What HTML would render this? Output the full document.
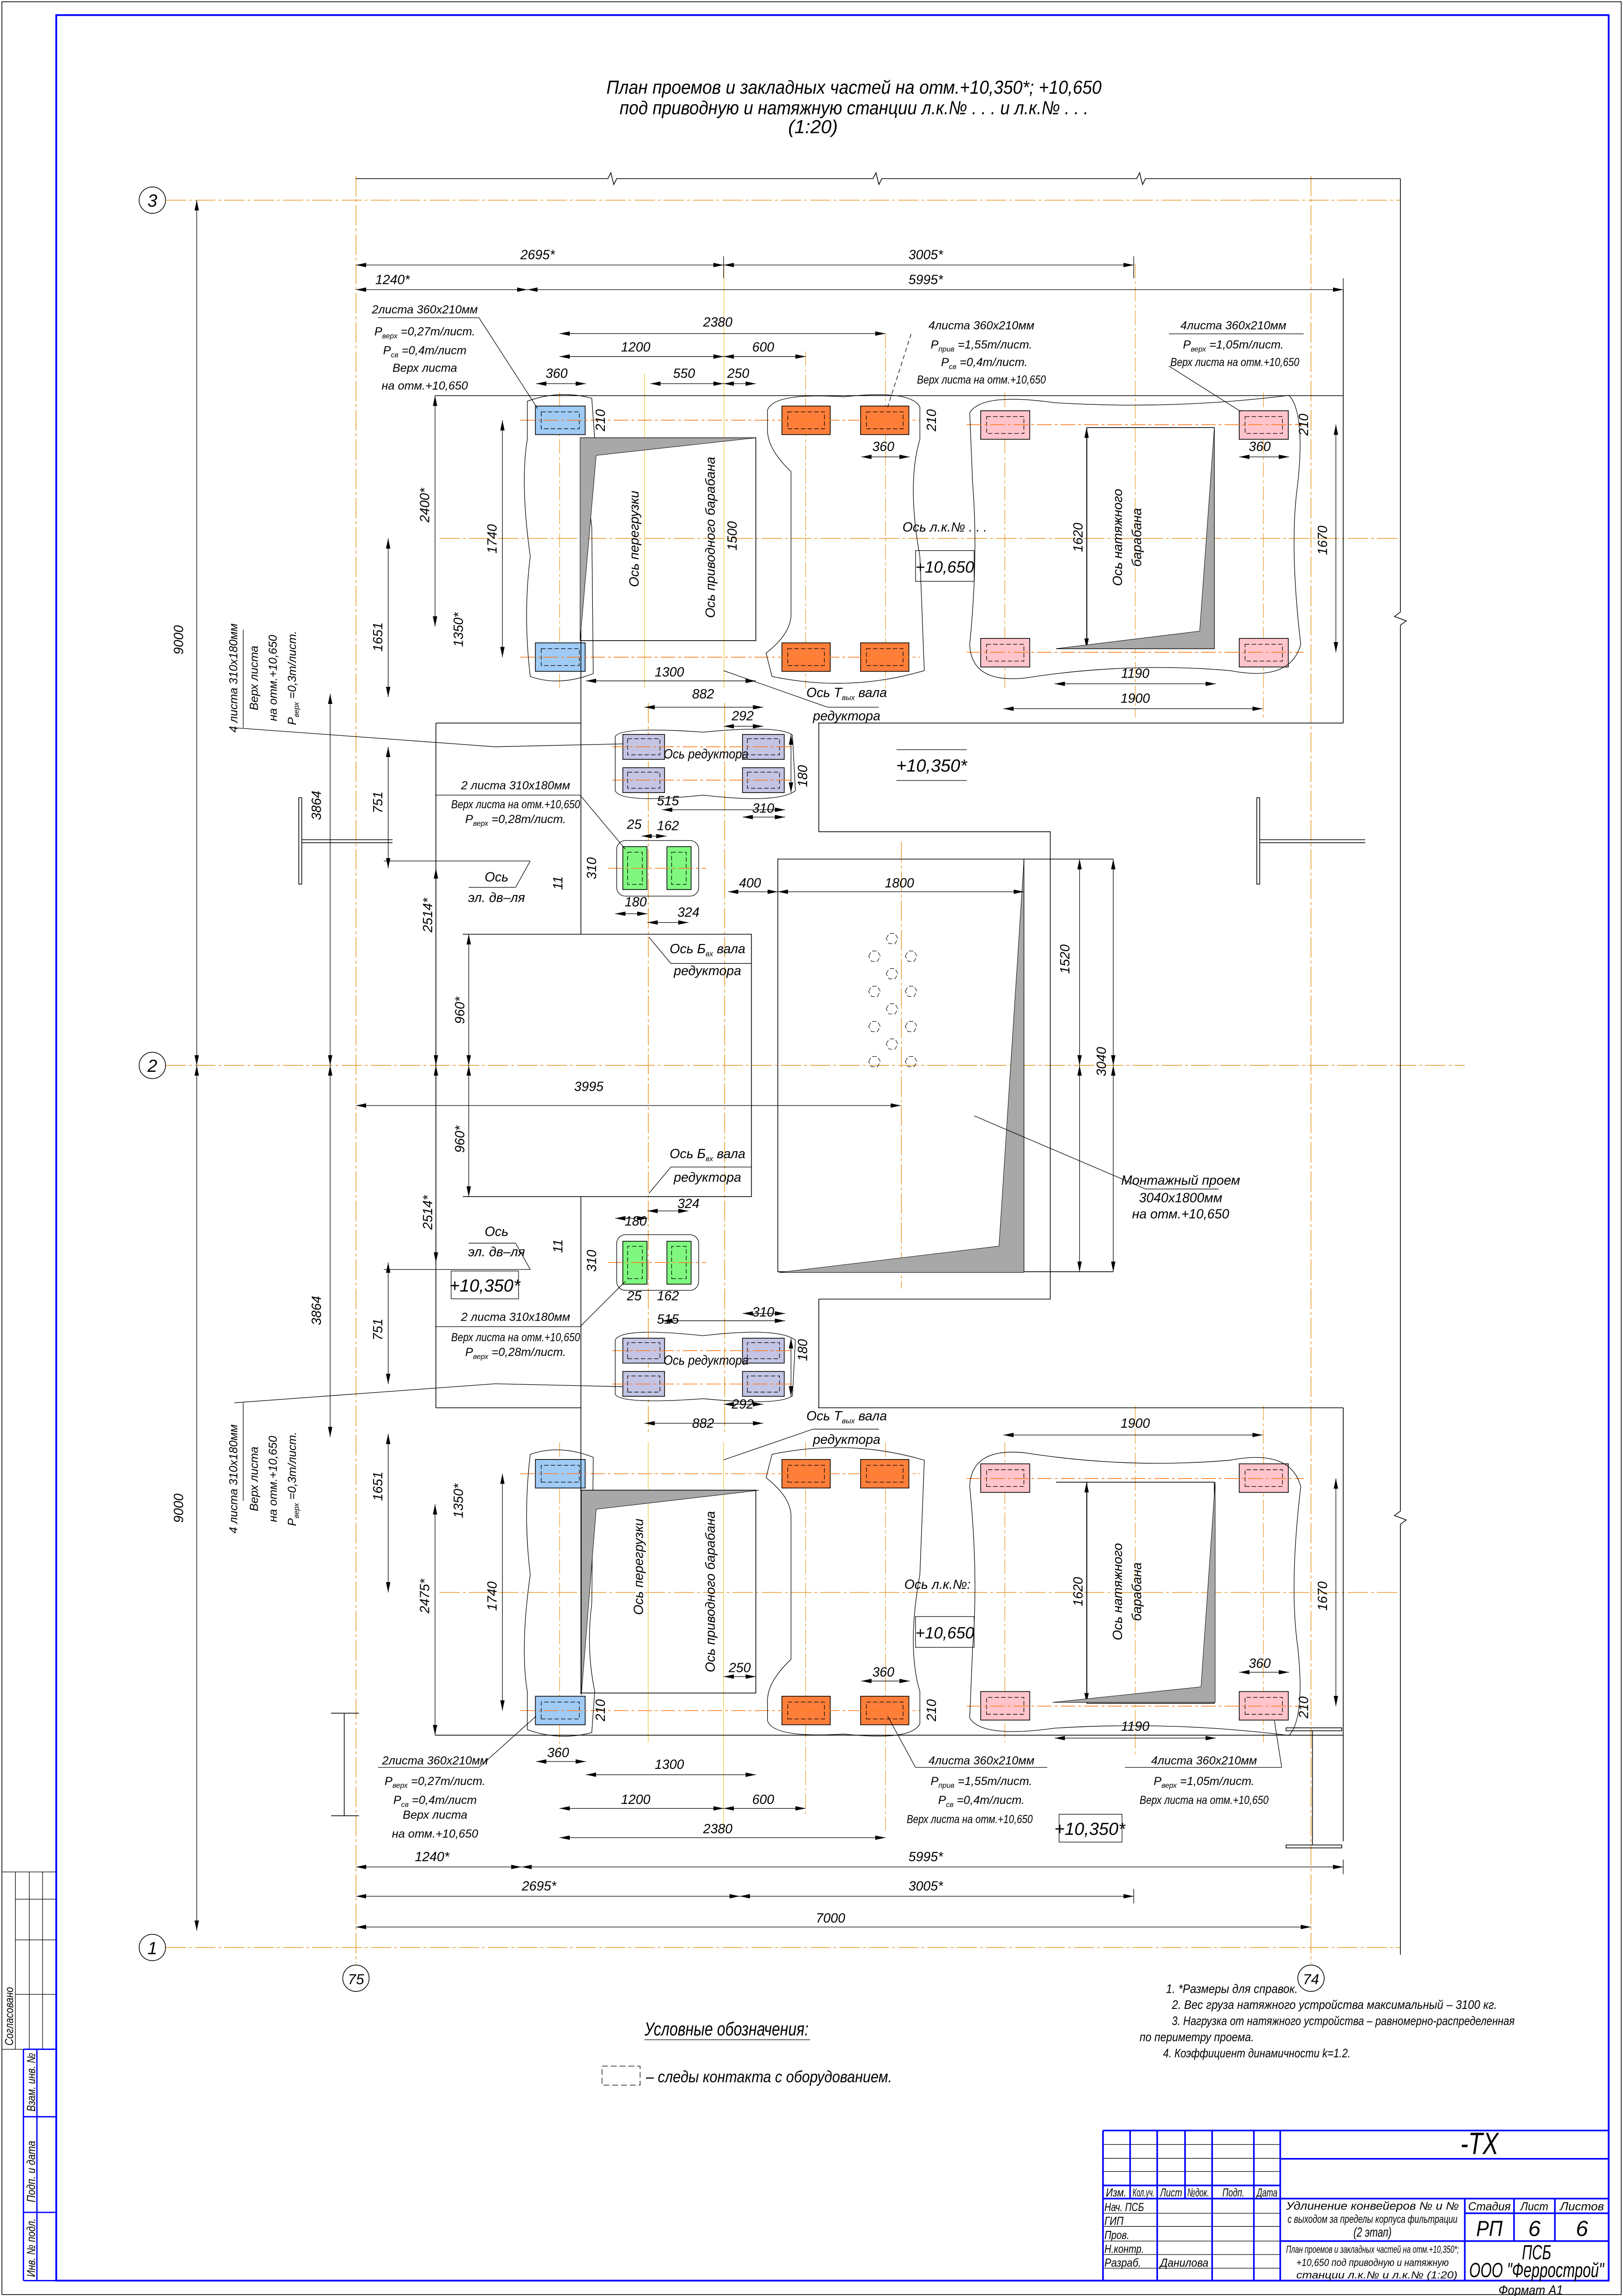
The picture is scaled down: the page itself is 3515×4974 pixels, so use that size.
<!DOCTYPE html>
<html><head><meta charset="utf-8"><style>
html,body{margin:0;padding:0;background:#fff}
svg{display:block}
text{font-family:"Liberation Sans Narrow","Liberation Sans",sans-serif;font-style:italic;fill:#000;stroke:none}
</style></head><body>
<svg xmlns="http://www.w3.org/2000/svg" width="3515" height="4974" viewBox="0 0 1108 1568" preserveAspectRatio="none">
<defs>
<marker id="a" markerUnits="userSpaceOnUse" markerWidth="7" markerHeight="3" refX="7" refY="1.5" orient="auto-start-reverse"><path d="M0,0 L7,1.5 L0,3 z" fill="#000"/></marker>
</defs>
<rect width="1108" height="1568" fill="#fff"/>
<rect x="1.3" y="1.2" width="1105.5" height="1565.8" fill="none" stroke="#000" stroke-width="0.5"/>
<rect x="38.4" y="10.3" width="1059.8" height="1547.2" fill="none" stroke="#0000ff" stroke-width="1.2"/>

<g stroke="#000" stroke-width="0.4" fill="none">
<line x1="1.3" y1="1278.4" x2="38.4" y2="1278.4"/>
<line x1="10.5" y1="1278.4" x2="10.5" y2="1399.5"/>
<line x1="20" y1="1278.4" x2="20" y2="1399.5"/>
<line x1="29.1" y1="1278.4" x2="29.1" y2="1399.5"/>
<line x1="10.5" y1="1297" x2="38.4" y2="1297"/>
<line x1="10.5" y1="1324.8" x2="38.4" y2="1324.8"/>
<line x1="10.5" y1="1362" x2="38.4" y2="1362"/>
<line x1="1.3" y1="1399.5" x2="16" y2="1399.5"/>
</g>
<g stroke="#0000ff" stroke-width="0.9" fill="none">
<line x1="16" y1="1399.5" x2="38.4" y2="1399.5"/>
<line x1="16" y1="1445.6" x2="38.4" y2="1445.6"/>
<line x1="16" y1="1510.9" x2="38.4" y2="1510.9"/>
<line x1="16" y1="1399.5" x2="16" y2="1557.5"/>
<line x1="25.2" y1="1399.5" x2="25.2" y2="1557.5"/>
<line x1="16" y1="1557.5" x2="38.4" y2="1557.5"/>
</g>
<text transform="translate(9,1397) rotate(-90)" font-size="8" textLength="40" lengthAdjust="spacingAndGlyphs">Согласовано</text>
<text transform="translate(24,1442) rotate(-90)" font-size="8" textLength="40" lengthAdjust="spacingAndGlyphs">Взам. инв. №</text>
<text transform="translate(24,1504) rotate(-90)" font-size="8" textLength="42" lengthAdjust="spacingAndGlyphs">Подп. и дата</text>
<text transform="translate(24,1555) rotate(-90)" font-size="8" textLength="40" lengthAdjust="spacingAndGlyphs">Инв. № подл.</text>

<text x="583" y="64" font-size="13" text-anchor="middle" textLength="338" lengthAdjust="spacingAndGlyphs">План проемов и закладных частей на отм.+10,350*; +10,650</text>
<text x="583" y="78" font-size="13" text-anchor="middle" textLength="320" lengthAdjust="spacingAndGlyphs">под приводную и натяжную станции л.к.№ . . . и л.к.№ . . .</text>
<text x="555" y="91" font-size="13" text-anchor="middle">(1:20)</text>

<g stroke="#e89a2a" stroke-width="0.5" stroke-dasharray="14,2,2,2" fill="none">
<line x1="113" y1="136.7" x2="956" y2="136.7"/>
<line x1="113" y1="727.6" x2="1000" y2="727.6"/>
<line x1="113" y1="1330" x2="956" y2="1330"/>
<line x1="243" y1="120" x2="243" y2="1341"/>
<line x1="895" y1="120" x2="895" y2="1341"/>
<line x1="300" y1="367.7" x2="956" y2="367.7"/>
<line x1="300" y1="1087.5" x2="956" y2="1087.5"/>
<line x1="442.6" y1="480" x2="442.6" y2="980"/>
<line x1="494.7" y1="480" x2="494.7" y2="980"/>
<line x1="615.4" y1="575" x2="615.4" y2="880"/>
</g>
<g stroke="#000" stroke-width="0.5" fill="#fff">
<circle cx="104" cy="136.7" r="9"/><circle cx="104" cy="727.6" r="9"/><circle cx="104" cy="1330" r="9"/>
<circle cx="243" cy="1351" r="9"/><circle cx="895" cy="1351" r="9"/>
</g>
<text x="104" y="141" font-size="12" text-anchor="middle">3</text>
<text x="104" y="732" font-size="12" text-anchor="middle">2</text>
<text x="104" y="1334.5" font-size="12" text-anchor="middle">1</text>
<text x="243" y="1355" font-size="10" text-anchor="middle">75</text>
<text x="895" y="1355" font-size="10" text-anchor="middle">74</text>

<g stroke="#000" stroke-width="0.5" fill="none">
<path d="M243,122 H415 l2,-4 l2,8 l2,-4 H596 l2,-4 l2,8 l2,-4 H776 l2,-4 l2,8 l2,-4 H956"/>
<path d="M956,122 V418 l-4,3 l8,3 l-4,3 V1032 l-4,3 l8,3 l-4,3 V1335"/>
</g>

<g stroke="#e89a2a" stroke-width="0.4" fill="none" stroke-dasharray="10,2,2,2">
<line x1="382" y1="268" x2="382" y2="470"/><line x1="382" y1="985" x2="382" y2="1195"/>
<line x1="550" y1="240" x2="550" y2="470"/><line x1="550" y1="985" x2="550" y2="1240"/>
<line x1="604.5" y1="228" x2="604.5" y2="470"/><line x1="604.5" y1="985" x2="604.5" y2="1250"/>
<line x1="686" y1="268" x2="686" y2="470"/><line x1="686" y1="985" x2="686" y2="1190"/>
<line x1="775" y1="180" x2="775" y2="490"/><line x1="775" y1="960" x2="775" y2="1200"/>
<line x1="862.5" y1="268" x2="862.5" y2="490"/><line x1="862.5" y1="960" x2="862.5" y2="1190"/>
</g>
<g stroke="#f0d060" stroke-width="0.5" fill="none">
<line x1="440" y1="255" x2="440" y2="470"/><line x1="442.5" y1="985" x2="442.5" y2="1190"/>
<line x1="494.2" y1="180" x2="494.2" y2="470"/><line x1="494" y1="985" x2="494" y2="1250"/>
</g>

<g id="half">
<g stroke="#000" stroke-width="0.5">
<rect x="365.5" y="277.3" width="34" height="19.5" fill="#9fcbf5"/>
<rect x="365.5" y="439" width="34" height="19.5" fill="#9fcbf5"/>
<rect x="533.8" y="277.3" width="33" height="19.5" fill="#ff7f3a"/>
<rect x="587.5" y="277.3" width="33" height="19.5" fill="#ff7f3a"/>
<rect x="533.8" y="439" width="33" height="19.5" fill="#ff7f3a"/>
<rect x="587.5" y="439" width="33" height="19.5" fill="#ff7f3a"/>
<rect x="669.5" y="280.5" width="33.5" height="19.5" fill="#ffc4cc"/>
<rect x="846" y="280.5" width="33.5" height="19.5" fill="#ffc4cc"/>
<rect x="669.5" y="436" width="33.5" height="19.5" fill="#ffc4cc"/>
<rect x="846" y="436" width="33.5" height="19.5" fill="#ffc4cc"/>
<rect x="425.2" y="501.6" width="28.5" height="17" fill="#c4c4e4"/>
<rect x="425.2" y="524.3" width="28.5" height="17" fill="#c4c4e4"/>
<rect x="506.9" y="501.6" width="28.5" height="17" fill="#c4c4e4"/>
<rect x="506.9" y="524.3" width="28.5" height="17" fill="#c4c4e4"/>
<rect x="425.2" y="578.2" width="16.5" height="29.3" fill="#80f880"/>
<rect x="455.3" y="578.2" width="16.5" height="29.3" fill="#80f880"/>
</g>
<g stroke="#000" stroke-width="0.4" fill="none" stroke-dasharray="3,1.5">
<rect x="369.5" y="281.3" width="26" height="11.5"/><rect x="369.5" y="443" width="26" height="11.5"/>
<rect x="537.8" y="281.3" width="25" height="11.5"/><rect x="591.5" y="281.3" width="25" height="11.5"/>
<rect x="537.8" y="443" width="25" height="11.5"/><rect x="591.5" y="443" width="25" height="11.5"/>
<rect x="673.5" y="284.5" width="25.5" height="11.5"/><rect x="850" y="284.5" width="25.5" height="11.5"/>
<rect x="673.5" y="440" width="25.5" height="11.5"/><rect x="850" y="440" width="25.5" height="11.5"/>
<rect x="428.5" y="504.5" width="22" height="11"/><rect x="428.5" y="527.3" width="22" height="11"/>
<rect x="510.2" y="504.5" width="22" height="11"/><rect x="510.2" y="527.3" width="22" height="11"/>
<rect x="428.5" y="582" width="10" height="22"/><rect x="458.5" y="582" width="10" height="22"/>
</g>
<g stroke="#ff7a1a" stroke-width="0.5" fill="none" stroke-dasharray="10,2,2,2">
<line x1="355" y1="287" x2="628" y2="287"/><line x1="355" y1="448.8" x2="628" y2="448.8"/>
<line x1="660" y1="290" x2="890" y2="290"/><line x1="660" y1="445.5" x2="890" y2="445.5"/>
<line x1="418" y1="510" x2="542" y2="510"/><line x1="418" y1="532.8" x2="542" y2="532.8"/>
<line x1="415" y1="593" x2="482" y2="593"/>
</g>
<g stroke="#000" stroke-width="0.4" fill="none">
<path d="M360,274 Q382,266 404,272 L406,300 Q400,330 404,360 L405,460 Q382,469 362,462 Q357,420 362,380 Q355,330 360,300 Z"/>
<path d="M524,280 Q528,268 576,271 Q622,266 628,278 L628,300 Q619,330 628,380 L631,458 Q580,473 527,462 L523,446 Q541,432 540,418 L540,322 Q523,306 524,292 Z"/>
<path d="M662,282 Q670,268 720,275 Q800,280 880,270 Q891,282 886,330 Q880,372 888,440 Q881,466 840,458 Q770,452 700,463 Q663,467 662,440 Q668,380 664,330 Z"/>
<path d="M420,503 Q424,496 480,500 Q532,495 541,502 L543,540 Q531,549 480,543 Q424,549 420,540 Z"/>
<rect x="421" y="574" width="56" height="38" rx="6"/>
</g>
<g stroke="#000" stroke-width="0.5" fill="none">
<line x1="297" y1="270.2" x2="917" y2="270.2"/>
<line x1="917" y1="197.8" x2="917" y2="493.8"/>
<line x1="558.5" y1="493.8" x2="917" y2="493.8"/>
<polyline points="559,493.8 559,568 717,568 717,727.6"/>
<polyline points="297.6,493.8 396.6,493.8"/>
<line x1="297.6" y1="493.8" x2="297.6" y2="727.6"/>
<line x1="396.6" y1="299" x2="396.6" y2="638"/>
<polyline points="316,638 513,638 513,727.6"/>
<polyline points="760,586.7 531,586.7 531,727.6"/>
<line x1="699" y1="586.7" x2="699" y2="727.6"/>
<polyline points="396,299 516,299 516,437.5 396,437.5"/>
<polyline points="742,292 829,292 829,443 721,443"/>
<line x1="742" y1="292" x2="742" y2="443"/>
</g>
<g stroke="#000" stroke-width="0.4" fill="none" marker-start="url(#a)" marker-end="url(#a)">
<line x1="134.3" y1="136.7" x2="134.3" y2="727.6"/>
<line x1="225.4" y1="473.8" x2="225.4" y2="727.6"/>
<line x1="265" y1="367.7" x2="265" y2="476"/>
<line x1="297" y1="270.2" x2="297" y2="427.9"/>
<line x1="343" y1="287" x2="343" y2="448.8"/>
<line x1="320" y1="638" x2="320" y2="727.6"/>
<line x1="265" y1="510" x2="265" y2="593"/>
<line x1="297.6" y1="593" x2="297.6" y2="727.6"/>
<line x1="737" y1="586.7" x2="737" y2="727.6"/>
<line x1="760" y1="586.7" x2="760" y2="727.6"/>
<line x1="741.8" y1="292" x2="741.8" y2="443"/>
<line x1="912" y1="290" x2="912" y2="445.5"/>
<line x1="540" y1="501.6" x2="540" y2="541.3"/>
</g>
</g>
<use href="#half" transform="matrix(1 0 0 -1 0 1455.2)"/>

<g fill="#a8a8a8" stroke="#000" stroke-width="0.3">
<polygon points="396,299 516,299 407,311 396,437.5"/>
<polygon points="396.9,1017.8 518,1017.8 407,1030.7 396.9,1157.6"/>
<polygon points="829,292 829,443 721,443 819,431"/>
<polygon points="829.6,1012.2 829.6,1162.6 718.6,1162.6 819.9,1152"/>
<polygon points="699,588 699,869 532,869 682,851"/>
</g>

<g stroke="#000" stroke-width="0.35" fill="none" stroke-dasharray="3,1.5">
<path id="hx" d="M-4,0 L-2,-3.5 L2,-3.5 L4,0 L2,3.5 L-2,3.5 Z" transform="translate(597,653)"/>
<use href="#hx" transform="translate(25,0)"/>
<use href="#hx" transform="translate(12,12)"/>
<use href="#hx" transform="translate(0,24)"/><use href="#hx" transform="translate(25,24)"/>
<use href="#hx" transform="translate(12,36)"/>
<use href="#hx" transform="translate(0,48)"/><use href="#hx" transform="translate(25,48)"/>
<use href="#hx" transform="translate(12,60)"/>
<use href="#hx" transform="translate(0,72)"/><use href="#hx" transform="translate(25,72)"/>
<use href="#hx" transform="translate(12,-12)"/>
</g>

<g stroke="#000" stroke-width="0.5" fill="none">
<rect x="204" y="544.8" width="2" height="59"/><line x1="206" y1="573.5" x2="268" y2="573.5"/><line x1="206" y1="575.5" x2="268" y2="575.5"/>
<rect x="858" y="544.8" width="2" height="59"/><line x1="860" y1="573.5" x2="932" y2="573.5"/><line x1="860" y1="575.5" x2="932" y2="575.5"/>
<line x1="226" y1="1170" x2="245" y2="1170"/><line x1="235" y1="1170" x2="235" y2="1240"/><line x1="226" y1="1240" x2="245" y2="1240"/>
<rect x="878" y="1180" width="38" height="2"/><line x1="896" y1="1182" x2="896" y2="1260"/><rect x="878" y="1260" width="38" height="2"/>
</g>

<g stroke="#000" stroke-width="0.4" fill="none" marker-start="url(#a)" marker-end="url(#a)">
<line x1="243" y1="181" x2="494" y2="181"/><line x1="494" y1="181" x2="774" y2="181"/>
<line x1="243" y1="197.8" x2="360" y2="197.8"/><line x1="360" y1="197.8" x2="917" y2="197.8"/>
<line x1="382" y1="227.8" x2="604.5" y2="227.8"/>
<line x1="382" y1="243.5" x2="494" y2="243.5"/><line x1="494" y1="243.5" x2="550" y2="243.5"/>
<line x1="444" y1="262" x2="494" y2="262"/><line x1="494" y1="262" x2="516" y2="262"/>
<line x1="366" y1="262" x2="400" y2="262"/>
<line x1="588" y1="312" x2="621" y2="312"/><line x1="846" y1="312" x2="880" y2="312"/>
<line x1="400" y1="465" x2="516" y2="465"/>
<line x1="720" y1="467" x2="830" y2="467"/>
<line x1="685" y1="484" x2="862" y2="484"/>
<line x1="440" y1="483" x2="521" y2="483"/>
<line x1="494" y1="496" x2="521" y2="496"/>
<line x1="452" y1="553" x2="536" y2="553"/><line x1="507" y1="558" x2="536" y2="558"/>
<line x1="438" y1="571" x2="455" y2="571"/>
<line x1="420" y1="624" x2="442" y2="624"/><line x1="442" y1="630" x2="470" y2="630"/>
<line x1="497" y1="609" x2="531" y2="609"/><line x1="531" y1="609" x2="699" y2="609"/>
<line x1="243" y1="755" x2="615" y2="755"/>
<line x1="442" y1="827" x2="470" y2="827"/><line x1="420" y1="832" x2="442" y2="832"/>
<line x1="452" y1="902" x2="536" y2="902"/><line x1="507" y1="897" x2="536" y2="897"/>
<line x1="440" y1="972" x2="521" y2="972"/><line x1="494" y1="959" x2="521" y2="959"/>
<line x1="685" y1="980" x2="862" y2="980"/>
<line x1="720" y1="1187" x2="830" y2="1187"/>
<line x1="494" y1="1145" x2="516" y2="1145"/>
<line x1="588" y1="1148" x2="621" y2="1148"/><line x1="846" y1="1142" x2="880" y2="1142"/>
<line x1="366" y1="1203" x2="400" y2="1203"/>
<line x1="400" y1="1212" x2="516" y2="1212"/>
<line x1="382" y1="1235" x2="494" y2="1235"/><line x1="494" y1="1235" x2="550" y2="1235"/>
<line x1="382" y1="1255" x2="604.5" y2="1255"/>
<line x1="243" y1="1275" x2="356" y2="1275"/><line x1="356" y1="1275" x2="917" y2="1275"/>
<line x1="243" y1="1295" x2="505" y2="1295"/><line x1="505" y1="1295" x2="774" y2="1295"/>
<line x1="243" y1="1316" x2="895" y2="1316"/>
</g>
<g stroke="#000" stroke-width="0.4" fill="none">
<line x1="774" y1="175" x2="774" y2="190"/><line x1="494" y1="175" x2="494" y2="190"/>
<line x1="917" y1="190" x2="917" y2="200"/>
<line x1="774" y1="1290" x2="774" y2="1300"/><line x1="917" y1="1270" x2="917" y2="1280"/>
</g>

<g stroke="#000" stroke-width="0.4" fill="none">
<line x1="258" y1="217" x2="327" y2="217"/><line x1="327" y1="217" x2="367" y2="279"/>
<line x1="622" y1="228" x2="606" y2="278" stroke-dasharray="3,2"/>
<line x1="798" y1="228" x2="890" y2="228"/><line x1="798" y1="250" x2="847" y2="281"/>
<line x1="160" y1="497" x2="338" y2="510"/><line x1="338" y1="510" x2="425" y2="508"/>
<line x1="297" y1="543" x2="396" y2="543"/><line x1="396" y1="543" x2="427" y2="580"/>
<line x1="320" y1="606" x2="352" y2="606"/><line x1="352" y1="606" x2="362" y2="588"/><line x1="262" y1="588" x2="362" y2="588"/>
<line x1="494" y1="458" x2="565" y2="483"/><line x1="565" y1="483" x2="600" y2="483"/>
<line x1="443" y1="640" x2="458" y2="658"/><line x1="458" y1="658" x2="513" y2="658"/>
<line x1="665" y1="762" x2="782" y2="812"/><line x1="782" y1="812" x2="832" y2="812"/>
<line x1="443" y1="815" x2="458" y2="797"/><line x1="458" y1="797" x2="513" y2="797"/>
<line x1="320" y1="849" x2="352" y2="849"/><line x1="352" y1="849" x2="362" y2="867"/><line x1="262" y1="867" x2="362" y2="867"/>
<line x1="297" y1="906" x2="396" y2="906"/><line x1="396" y1="906" x2="427" y2="875"/>
<line x1="160" y1="958" x2="338" y2="945"/><line x1="338" y1="945" x2="425" y2="947"/>
<line x1="494" y1="997" x2="555" y2="976"/><line x1="555" y1="976" x2="600" y2="976"/>
<line x1="258" y1="1207" x2="327" y2="1207"/><line x1="327" y1="1207" x2="366" y2="1172"/>
<line x1="625" y1="1207" x2="715" y2="1207"/><line x1="625" y1="1207" x2="606" y2="1172"/>
<line x1="768" y1="1207" x2="875" y2="1207"/><line x1="875" y1="1207" x2="870" y2="1175"/>
<rect x="625" y="376" width="40" height="21"/><rect x="625" y="1104" width="40" height="21"/>
<rect x="308" y="868" width="46" height="19"/><rect x="723" y="1239" width="43" height="19"/>
<line x1="612" y1="512" x2="660" y2="512"/><line x1="612" y1="533" x2="660" y2="533"/>
<line x1="166" y1="430" x2="166" y2="497"/><line x1="166" y1="958" x2="166" y2="1025"/>
</g>

<g font-size="9">
<text x="367" y="177" text-anchor="middle">2695*</text><text x="632" y="177" text-anchor="middle">3005*</text>
<text x="268" y="194" text-anchor="middle">1240*</text><text x="632" y="194" text-anchor="middle">5995*</text>
<text x="290" y="214" text-anchor="middle" font-size="8">2листа 360x210мм</text>
<text x="290" y="229" text-anchor="middle" font-size="8">P<tspan font-size="5" dy="2">верх</tspan><tspan dy="-2"> =0,27т/лист.</tspan></text>
<text x="290" y="242" text-anchor="middle" font-size="8">P<tspan font-size="5" dy="2">св</tspan><tspan dy="-2"> =0,4т/лист</tspan></text>
<text x="290" y="254" text-anchor="middle" font-size="8">Верх листа</text>
<text x="290" y="266" text-anchor="middle" font-size="8">на отм.+10,650</text>
<text x="490" y="223" text-anchor="middle">2380</text><text x="434" y="240" text-anchor="middle">1200</text><text x="521" y="240" text-anchor="middle">600</text>
<text x="380" y="258" text-anchor="middle">360</text><text x="467" y="258" text-anchor="middle">550</text><text x="504" y="258" text-anchor="middle">250</text>
<text x="670" y="225" text-anchor="middle" font-size="8">4листа 360x210мм</text>
<text x="670" y="238" text-anchor="middle" font-size="8">P<tspan font-size="5" dy="2">прив</tspan><tspan dy="-2"> =1,55т/лист.</tspan></text>
<text x="672" y="250" text-anchor="middle" font-size="8">P<tspan font-size="5" dy="2">св</tspan><tspan dy="-2"> =0,4т/лист.</tspan></text>
<text x="670" y="262" text-anchor="middle" font-size="8" textLength="88" lengthAdjust="spacingAndGlyphs">Верх листа на отм.+10,650</text>
<text x="842" y="225" text-anchor="middle" font-size="8">4листа 360x210мм</text>
<text x="842" y="238" text-anchor="middle" font-size="8">P<tspan font-size="5" dy="2">верх</tspan><tspan dy="-2"> =1,05т/лист.</tspan></text>
<text x="843" y="250" text-anchor="middle" font-size="8" textLength="88" lengthAdjust="spacingAndGlyphs">Верх листа на отм.+10,650</text>
<text x="603" y="308" text-anchor="middle">360</text><text x="860" y="308" text-anchor="middle">360</text>
<text transform="translate(413,287) rotate(-90)" text-anchor="middle">210</text>
<text transform="translate(639,287) rotate(-90)" text-anchor="middle">210</text>
<text transform="translate(893,290) rotate(-90)" text-anchor="middle">210</text>
<text transform="translate(339,368) rotate(-90)" text-anchor="middle">1740</text>
<text transform="translate(503,366) rotate(-90)" text-anchor="middle">1500</text>
<text transform="translate(436,368) rotate(-90)" text-anchor="middle">Ось перегрузки</text>
<text transform="translate(488,367) rotate(-90)" text-anchor="middle">Ось приводного барабана</text>
<text x="645" y="363" text-anchor="middle">Ось л.к.№ . . .</text>
<text x="645" y="391" text-anchor="middle" font-size="11">+10,650</text>
<text transform="translate(739,367) rotate(-90)" text-anchor="middle">1620</text>
<text transform="translate(766,367) rotate(-90)" text-anchor="middle">Ось натяжного</text>
<text transform="translate(779,367) rotate(-90)" text-anchor="middle">барабана</text>
<text transform="translate(906,369) rotate(-90)" text-anchor="middle">1670</text>
<text transform="translate(293,345) rotate(-90)" text-anchor="middle">2400*</text>
<text transform="translate(261,435) rotate(-90)" text-anchor="middle">1651</text>
<text transform="translate(316,430) rotate(-90)" text-anchor="middle">1350*</text>
<text transform="translate(125,437) rotate(-90)" text-anchor="middle">9000</text>
<text x="457" y="462" text-anchor="middle">1300</text><text x="775" y="463" text-anchor="middle">1190</text><text x="775" y="480" text-anchor="middle">1900</text>
<text x="480" y="477" text-anchor="middle">882</text><text x="507" y="492" text-anchor="middle">292</text>
<text x="578" y="476" text-anchor="middle">Ось Т<tspan font-size="5" dy="2">вых</tspan><tspan dy="-2"> вала</tspan></text>
<text x="578" y="492" text-anchor="middle">редуктора</text>
<text transform="translate(162,463) rotate(-90)" text-anchor="middle" font-size="8">4 листа 310x180мм</text>
<text transform="translate(176,463) rotate(-90)" text-anchor="middle" font-size="8">Верх листа</text>
<text transform="translate(189,463) rotate(-90)" text-anchor="middle" font-size="8">на отм.+10,650</text>
<text transform="translate(202,463) rotate(-90)" text-anchor="middle" font-size="8">P<tspan font-size="5" dy="2">верх</tspan><tspan dy="-2"> =0,3т/лист.</tspan></text>
<text x="482" y="518" text-anchor="middle" textLength="58" lengthAdjust="spacingAndGlyphs">Ось редуктора</text>
<text transform="translate(551,530) rotate(-90)" text-anchor="middle">180</text>
<text x="456" y="550" text-anchor="middle">515</text><text x="521" y="555" text-anchor="middle">310</text>
<text x="636" y="527" text-anchor="middle" font-size="12">+10,350*</text>
<text x="352" y="539" text-anchor="middle" font-size="8">2 листа 310x180мм</text>
<text x="352" y="552" text-anchor="middle" font-size="8" textLength="88" lengthAdjust="spacingAndGlyphs">Верх листа на отм.+10,650</text>
<text x="352" y="562" text-anchor="middle" font-size="8">P<tspan font-size="5" dy="2">верх</tspan><tspan dy="-2"> =0,28т/лист.</tspan></text>
<text x="433" y="566" text-anchor="middle">25</text><text x="456" y="567" text-anchor="middle">162</text>
<text transform="translate(407,593) rotate(-90)" text-anchor="middle">310</text>
<text x="339" y="602" text-anchor="middle">Ось</text><text x="339" y="616" text-anchor="middle">эл. дв–ля</text>
<text transform="translate(384,603) rotate(-90)" text-anchor="middle">11</text>
<text x="434" y="619" text-anchor="middle">180</text><text x="470" y="626" text-anchor="middle">324</text>
<text x="512" y="606" text-anchor="middle">400</text><text x="614" y="606" text-anchor="middle">1800</text>
<text transform="translate(730,655) rotate(-90)" text-anchor="middle">1520</text>
<text transform="translate(755,725) rotate(-90)" text-anchor="middle">3040</text>
<text x="483" y="651" text-anchor="middle">Ось Б<tspan font-size="5" dy="2">вх</tspan><tspan dy="-2"> вала</tspan></text>
<text x="483" y="666" text-anchor="middle">редуктора</text>
<text transform="translate(317,690) rotate(-90)" text-anchor="middle">960*</text>
<text transform="translate(295,625) rotate(-90)" text-anchor="middle">2514*</text>
<text transform="translate(261,548) rotate(-90)" text-anchor="middle">751</text>
<text transform="translate(219,550) rotate(-90)" text-anchor="middle">3864</text>
<text x="402" y="745" text-anchor="middle">3995</text>
<text x="806" y="809" text-anchor="middle">Монтажный проем</text>
<text x="806" y="821" text-anchor="middle">3040x1800мм</text>
<text x="806" y="832" text-anchor="middle">на отм.+10,650</text>
<text transform="translate(317,778) rotate(-90)" text-anchor="middle">960*</text>
<text x="483" y="791" text-anchor="middle">Ось Б<tspan font-size="5" dy="2">вх</tspan><tspan dy="-2"> вала</tspan></text>
<text x="483" y="807" text-anchor="middle">редуктора</text>
<text transform="translate(295,828) rotate(-90)" text-anchor="middle">2514*</text>
<text x="470" y="825" text-anchor="middle">324</text><text x="434" y="837" text-anchor="middle">180</text>
<text x="339" y="844" text-anchor="middle">Ось</text><text x="339" y="858" text-anchor="middle">эл. дв–ля</text>
<text transform="translate(384,851) rotate(-90)" text-anchor="middle">11</text>
<text transform="translate(407,861) rotate(-90)" text-anchor="middle">310</text>
<text x="331" y="882" text-anchor="middle" font-size="12">+10,350*</text>
<text x="433" y="888" text-anchor="middle">25</text><text x="456" y="888" text-anchor="middle">162</text>
<text x="352" y="902" text-anchor="middle" font-size="8">2 листа 310x180мм</text>
<text x="352" y="916" text-anchor="middle" font-size="8" textLength="88" lengthAdjust="spacingAndGlyphs">Верх листа на отм.+10,650</text>
<text x="352" y="926" text-anchor="middle" font-size="8">P<tspan font-size="5" dy="2">верх</tspan><tspan dy="-2"> =0,28т/лист.</tspan></text>
<text x="521" y="899" text-anchor="middle">310</text><text x="456" y="904" text-anchor="middle">515</text>
<text transform="translate(551,922) rotate(-90)" text-anchor="middle">180</text>
<text x="482" y="932" text-anchor="middle" textLength="58" lengthAdjust="spacingAndGlyphs">Ось редуктора</text>
<text x="480" y="975" text-anchor="middle">882</text><text x="507" y="962" text-anchor="middle">292</text>
<text x="578" y="970" text-anchor="middle">Ось Т<tspan font-size="5" dy="2">вых</tspan><tspan dy="-2"> вала</tspan></text>
<text x="578" y="986" text-anchor="middle">редуктора</text>
<text transform="translate(261,908) rotate(-90)" text-anchor="middle">751</text>
<text transform="translate(219,895) rotate(-90)" text-anchor="middle">3864</text>
<text transform="translate(125,1030) rotate(-90)" text-anchor="middle">9000</text>
<text transform="translate(261,1015) rotate(-90)" text-anchor="middle">1651</text>
<text transform="translate(316,1025) rotate(-90)" text-anchor="middle">1350*</text>
<text transform="translate(293,1090) rotate(-90)" text-anchor="middle">2475*</text>
<text transform="translate(339,1090) rotate(-90)" text-anchor="middle">1740</text>
<text transform="translate(162,1010) rotate(-90)" text-anchor="middle" font-size="8">4 листа 310x180мм</text>
<text transform="translate(176,1010) rotate(-90)" text-anchor="middle" font-size="8">Верх листа</text>
<text transform="translate(189,1010) rotate(-90)" text-anchor="middle" font-size="8">на отм.+10,650</text>
<text transform="translate(202,1010) rotate(-90)" text-anchor="middle" font-size="8">P<tspan font-size="5" dy="2">верх</tspan><tspan dy="-2"> =0,3т/лист.</tspan></text>
<text x="640" y="1085" text-anchor="middle">Ось л.к.№:</text>
<text x="645" y="1119" text-anchor="middle" font-size="11">+10,650</text>
<text transform="translate(439,1070) rotate(-90)" text-anchor="middle">Ось перегрузки</text>
<text transform="translate(488,1087) rotate(-90)" text-anchor="middle">Ось приводного барабана</text>
<text x="505" y="1142" text-anchor="middle">250</text><text x="603" y="1145" text-anchor="middle">360</text><text x="860" y="1139" text-anchor="middle">360</text>
<text transform="translate(413,1168) rotate(-90)" text-anchor="middle">210</text>
<text transform="translate(639,1168) rotate(-90)" text-anchor="middle">210</text>
<text transform="translate(893,1166) rotate(-90)" text-anchor="middle">210</text>
<text transform="translate(739,1087) rotate(-90)" text-anchor="middle">1620</text>
<text transform="translate(766,1087) rotate(-90)" text-anchor="middle">Ось натяжного</text>
<text transform="translate(779,1087) rotate(-90)" text-anchor="middle">барабана</text>
<text transform="translate(906,1090) rotate(-90)" text-anchor="middle">1670</text>
<text x="775" y="1182" text-anchor="middle">1190</text><text x="775" y="975" text-anchor="middle">1900</text>
<text x="381" y="1200" text-anchor="middle">360</text><text x="457" y="1208" text-anchor="middle">1300</text>
<text x="434" y="1232" text-anchor="middle">1200</text><text x="521" y="1232" text-anchor="middle">600</text><text x="490" y="1252" text-anchor="middle">2380</text>
<text x="297" y="1205" text-anchor="middle" font-size="8">2листа 360x210мм</text>
<text x="297" y="1219" text-anchor="middle" font-size="8">P<tspan font-size="5" dy="2">верх</tspan><tspan dy="-2"> =0,27т/лист.</tspan></text>
<text x="297" y="1232" text-anchor="middle" font-size="8">P<tspan font-size="5" dy="2">св</tspan><tspan dy="-2"> =0,4т/лист</tspan></text>
<text x="297" y="1242" text-anchor="middle" font-size="8">Верх листа</text>
<text x="297" y="1255" text-anchor="middle" font-size="8">на отм.+10,650</text>
<text x="670" y="1205" text-anchor="middle" font-size="8">4листа 360x210мм</text>
<text x="670" y="1219" text-anchor="middle" font-size="8">P<tspan font-size="5" dy="2">прив</tspan><tspan dy="-2"> =1,55т/лист.</tspan></text>
<text x="670" y="1232" text-anchor="middle" font-size="8">P<tspan font-size="5" dy="2">св</tspan><tspan dy="-2"> =0,4т/лист.</tspan></text>
<text x="662" y="1245" text-anchor="middle" font-size="8" textLength="86" lengthAdjust="spacingAndGlyphs">Верх листа на отм.+10,650</text>
<text x="822" y="1205" text-anchor="middle" font-size="8">4листа 360x210мм</text>
<text x="822" y="1219" text-anchor="middle" font-size="8">P<tspan font-size="5" dy="2">верх</tspan><tspan dy="-2"> =1,05т/лист.</tspan></text>
<text x="822" y="1232" text-anchor="middle" font-size="8" textLength="88" lengthAdjust="spacingAndGlyphs">Верх листа на отм.+10,650</text>
<text x="744" y="1253" text-anchor="middle" font-size="12">+10,350*</text>
<text x="295" y="1271" text-anchor="middle">1240*</text><text x="632" y="1271" text-anchor="middle">5995*</text>
<text x="368" y="1291" text-anchor="middle">2695*</text><text x="632" y="1291" text-anchor="middle">3005*</text>
<text x="567" y="1313" text-anchor="middle">7000</text>
</g>

<text x="496" y="1390" font-size="13" text-anchor="middle" textLength="112" lengthAdjust="spacingAndGlyphs">Условные обозначения:</text>
<line x1="440" y1="1393" x2="553" y2="1393" stroke="#000" stroke-width="0.4"/>
<rect x="411" y="1411" width="26" height="13" fill="none" stroke="#000" stroke-width="0.4" stroke-dasharray="4,2"/>
<text x="441" y="1422" font-size="11" textLength="168" lengthAdjust="spacingAndGlyphs">– следы контакта с оборудованием.</text>
<g font-size="8.5">
<text x="796" y="1361" textLength="90" lengthAdjust="spacingAndGlyphs">1. *Размеры для справок.</text>
<text x="800" y="1372" textLength="222" lengthAdjust="spacingAndGlyphs">2. Вес груза натяжного устройства максимальный – 3100 кг.</text>
<text x="800" y="1383" textLength="234" lengthAdjust="spacingAndGlyphs">3. Нагрузка от натяжного устройства – равномерно-распределенная</text>
<text x="778" y="1394" textLength="78" lengthAdjust="spacingAndGlyphs">по периметру проема.</text>
<text x="794" y="1405" textLength="128" lengthAdjust="spacingAndGlyphs">4. Коэффициент динамичности k=1.2.</text>
</g>

<g stroke="#000" stroke-width="0.4">
<line x1="753" y1="1464.5" x2="874" y2="1464.5"/><line x1="753" y1="1474" x2="874" y2="1474"/><line x1="753" y1="1483" x2="874" y2="1483"/>
<line x1="753" y1="1511.5" x2="874" y2="1511.5"/><line x1="753" y1="1520.5" x2="874" y2="1520.5"/><line x1="753" y1="1530.5" x2="874" y2="1530.5"/><line x1="753" y1="1539.7" x2="874" y2="1539.7"/><line x1="753" y1="1549" x2="874" y2="1549"/>
</g>
<g stroke="#0000ff" stroke-width="1.1" fill="none">
<line x1="753" y1="1455" x2="1098" y2="1455"/>
<line x1="753" y1="1455" x2="753" y2="1557.5"/>
<line x1="771.5" y1="1455" x2="771.5" y2="1501.5"/><line x1="809" y1="1455" x2="809" y2="1501.5"/>
<line x1="790" y1="1455" x2="790" y2="1557.5"/><line x1="827.5" y1="1455" x2="827.5" y2="1557.5"/><line x1="856" y1="1455" x2="856" y2="1557.5"/>
<line x1="874" y1="1455" x2="874" y2="1557.5"/>
<line x1="753" y1="1492.5" x2="874" y2="1492.5"/>
<line x1="753" y1="1501.5" x2="1098" y2="1501.5"/>
<line x1="874" y1="1474.3" x2="1098" y2="1474.3"/>
<line x1="874" y1="1530.5" x2="1098" y2="1530.5"/>
<line x1="1000" y1="1501.5" x2="1000" y2="1557.5"/>
<line x1="1033.6" y1="1501.5" x2="1033.6" y2="1530.5"/><line x1="1061.5" y1="1501.5" x2="1061.5" y2="1530.5"/>
<line x1="1000" y1="1511.5" x2="1098" y2="1511.5"/>
</g>
<text x="1010" y="1471" font-size="21" text-anchor="middle" textLength="26" lengthAdjust="spacingAndGlyphs">-TX</text>
<g font-size="8">
<text x="762" y="1500" text-anchor="middle" textLength="14" lengthAdjust="spacingAndGlyphs">Изм.</text>
<text x="780.7" y="1500" text-anchor="middle" textLength="15" lengthAdjust="spacingAndGlyphs">Кол.уч.</text>
<text x="799.5" y="1500" text-anchor="middle" textLength="15" lengthAdjust="spacingAndGlyphs">Лист</text>
<text x="818" y="1500" text-anchor="middle" textLength="15" lengthAdjust="spacingAndGlyphs">№док.</text>
<text x="842" y="1500" text-anchor="middle" textLength="15" lengthAdjust="spacingAndGlyphs">Подп.</text>
<text x="865" y="1500" text-anchor="middle" textLength="14" lengthAdjust="spacingAndGlyphs">Дата</text>
<text x="754" y="1510" textLength="27" lengthAdjust="spacingAndGlyphs">Нач. ПСБ</text>
<text x="754" y="1519.5" textLength="13" lengthAdjust="spacingAndGlyphs">ГИП</text>
<text x="754" y="1529" textLength="17" lengthAdjust="spacingAndGlyphs">Пров.</text>
<text x="754" y="1538.5" textLength="27" lengthAdjust="spacingAndGlyphs">Н.контр.</text>
<text x="754" y="1548" textLength="25" lengthAdjust="spacingAndGlyphs">Разраб.</text>
<text x="792" y="1548" textLength="33" lengthAdjust="spacingAndGlyphs">Данилова</text>
<text x="937" y="1509" text-anchor="middle" font-size="7.5" fill="#555" textLength="118" lengthAdjust="spacingAndGlyphs">Удлинение конвейеров №     и №</text>
<text x="937" y="1518" text-anchor="middle" font-size="7.5" fill="#555" textLength="116" lengthAdjust="spacingAndGlyphs">с выходом за пределы корпуса фильтрации</text>
<text x="937" y="1527.5" text-anchor="middle" font-size="9" textLength="26" lengthAdjust="spacingAndGlyphs">(2 этап)</text>
<text x="1016.8" y="1509.5" text-anchor="middle" textLength="29" lengthAdjust="spacingAndGlyphs">Стадия</text>
<text x="1047.5" y="1509.5" text-anchor="middle" textLength="19" lengthAdjust="spacingAndGlyphs">Лист</text>
<text x="1080" y="1509.5" text-anchor="middle" textLength="30" lengthAdjust="spacingAndGlyphs">Листов</text>
<text x="937" y="1538.5" text-anchor="middle" font-size="7" fill="#555" textLength="118" lengthAdjust="spacingAndGlyphs">План проемов и закладных частей на отм.+10,350*;</text>
<text x="937" y="1547.5" text-anchor="middle" font-size="7" fill="#555" textLength="104" lengthAdjust="spacingAndGlyphs">+10,650 под приводную и натяжную</text>
<text x="940" y="1556" text-anchor="middle" font-size="7" fill="#555" textLength="110" lengthAdjust="spacingAndGlyphs">станции л.к.№      и л.к.№      (1:20)</text>
</g>
<text x="1016.8" y="1527" font-size="15" text-anchor="middle" textLength="18" lengthAdjust="spacingAndGlyphs">РП</text>
<text x="1047.5" y="1527" font-size="15" text-anchor="middle">6</text>
<text x="1080" y="1527" font-size="15" text-anchor="middle">6</text>
<text x="1049" y="1543" font-size="14" text-anchor="middle" textLength="20" lengthAdjust="spacingAndGlyphs">ПСБ</text>
<text x="1049" y="1555" font-size="14" text-anchor="middle" textLength="92" lengthAdjust="spacingAndGlyphs">ООО "Феррострой"</text>
<text x="1045" y="1567" font-size="9" text-anchor="middle" textLength="44" lengthAdjust="spacingAndGlyphs">Формат    А1</text>
</svg>
</body></html>
